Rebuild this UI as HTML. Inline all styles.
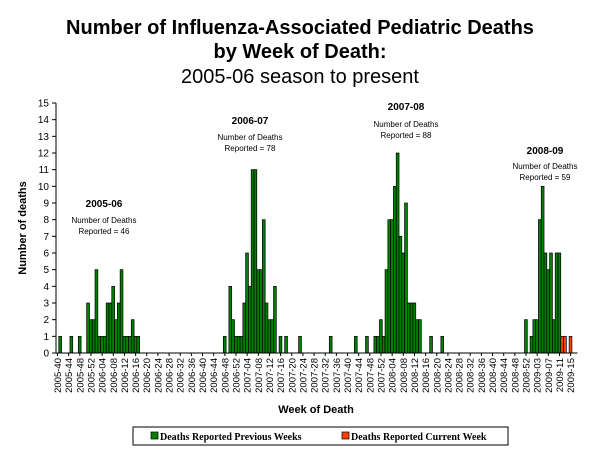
<!DOCTYPE html>
<html><head><meta charset="utf-8">
<style>
body{margin:0;background:#fff;}
svg{display:block;font-family:"Liberation Sans",Arial,sans-serif;}
</style></head>
<body>
<svg id="chart" width="600" height="450">
  <g text-anchor="middle" fill="#000">
    <text x="300" y="34" font-size="20" font-weight="bold">Number of Influenza-Associated Pediatric Deaths</text>
    <text x="300" y="58" font-size="20" font-weight="bold">by Week of Death:</text>
    <text x="300" y="83" font-size="20">2005-06 season to present</text>
  </g>
  <text transform="translate(26,228) rotate(-90)" text-anchor="middle" font-size="11" font-weight="bold">Number of deaths</text>
  <text x="316" y="413" text-anchor="middle" font-size="11" font-weight="bold">Week of Death</text>
  <g id="plot"></g>
  <g text-anchor="middle" font-size="8">
    <text x="104" y="207" font-size="10" font-weight="bold">2005-06</text>
    <text x="104" y="223">Number of Deaths</text>
    <text x="104" y="234">Reported = 46</text>
    <text x="250" y="124" font-size="10" font-weight="bold">2006-07</text>
    <text x="250" y="140">Number of Deaths</text>
    <text x="250" y="151">Reported = 78</text>
    <text x="406" y="110" font-size="10" font-weight="bold">2007-08</text>
    <text x="406" y="127">Number of Deaths</text>
    <text x="406" y="138">Reported = 88</text>
    <text x="545" y="154" font-size="10" font-weight="bold">2008-09</text>
    <text x="545" y="169">Number of Deaths</text>
    <text x="545" y="180">Reported = 59</text>
  </g>
  <g>
    <rect x="133" y="427" width="375" height="18" fill="#fff" stroke="#000"/>
    <rect x="151" y="432" width="7" height="7" fill="#008000" stroke="#000" stroke-width="0.7"/>
    <text x="160" y="440" font-family="Liberation Serif,serif" font-size="10" font-weight="bold">Deaths Reported Previous Weeks</text>
    <rect x="342" y="432" width="7" height="7" fill="#ff4000" stroke="#000" stroke-width="0.7"/>
    <text x="351" y="440" font-family="Liberation Serif,serif" font-size="10" font-weight="bold">Deaths Reported Current Week</text>
  </g>
</svg>
<script>
const weekCount = 187;
const prevWeeks = [1,5,8,11,12,13,14,15,16,17,18,19,20,21,22,23,24,25,26,27,28,29,
  60,62,63,64,65,66,67,68,69,70,71,72,73,74,75,76,77,78,80,82,87,98,
  107,111,114,115,116,117,118,119,120,121,122,123,124,125,126,127,128,129,130,134,138,
  168,170,171,172,173,174,175,176,177,178,179,180];
const prevValues = [1,1,1,3,2,2,5,1,1,1,3,3,4,2,3,5,1,1,1,2,1,1,
  1,4,2,1,1,1,3,6,4,11,11,5,5,8,3,2,2,4,1,1,1,1,
  1,1,1,1,2,1,5,8,8,10,12,7,6,9,3,3,3,2,2,1,1,
  2,1,2,2,8,10,6,5,6,2,6,6];
const currWeeks = [181,182,184];
const currValues = [1,1,1];
const yTicks = [0,1,2,3,4,5,6,7,8,9,10,11,12,13,14,15];
const xLabels = [];
(function(){
  const yrs=[[2005,40,52],[2006,1,52],[2007,1,52],[2008,1,53],[2009,1,17]];
  let idx=0;
  yrs.forEach(([y,s,e])=>{for(let w=s;w<=e;w++){ if(idx%4===0) xLabels.push([idx,y+'-'+String(w).padStart(2,'0')]); idx++;}});
})();
const NS='http://www.w3.org/2000/svg';
const X0=56, X1=577.5, Y0=353, Y1=103, YMAX=15;
const bw=(X1-X0)/weekCount;
const xs=i=>X0+i*bw;
const ys=v=>Y0-(Y0-Y1)*v/YMAX;
const plot=document.getElementById('plot');
function mk(tag,attrs){const e=document.createElementNS(NS,tag);for(const k in attrs)e.setAttribute(k,attrs[k]);plot.appendChild(e);return e;}
const ya=mk('line',{x1:X0,y1:Y1,x2:X0,y2:Y0,stroke:'#000'});


yTicks.forEach(t=>{
  const l=mk('line',{x1:X0-4,y1:ys(t),x2:X0,y2:ys(t),stroke:'#000'});
  
  
  const tx=mk('text',{x:X0-7,y:ys(t)+3.5,'text-anchor':'end','font-size':10});
  
  
  tx.textContent=t;
});
function bars(weeks,vals,color,name){
  weeks.forEach((w,i)=>{
    const r=mk('rect',{x:xs(w),y:ys(vals[i]),width:bw,height:Y0-ys(vals[i]),fill:color,stroke:'#000','stroke-width':0.7});
    
    
  });
}
bars(prevWeeks,prevValues,'#008000','bar-previous-week');
bars(currWeeks,currValues,'#ff4000','bar-current-week');
const xa=mk('line',{x1:X0,y1:Y0,x2:X1,y2:Y0,stroke:'#000'});


xLabels.forEach(([i,lab])=>{
  const x=xs(i)+1.5;
  const l=mk('line',{x1:x,y1:Y0,x2:x,y2:Y0+3,stroke:'#000'});
  
  
  const t=mk('text',{transform:`translate(${x+3.5},${Y0+5}) rotate(-90)`,'text-anchor':'end','font-size':9.5});
  
  
  t.textContent=lab;
});
</script>
</body></html>
